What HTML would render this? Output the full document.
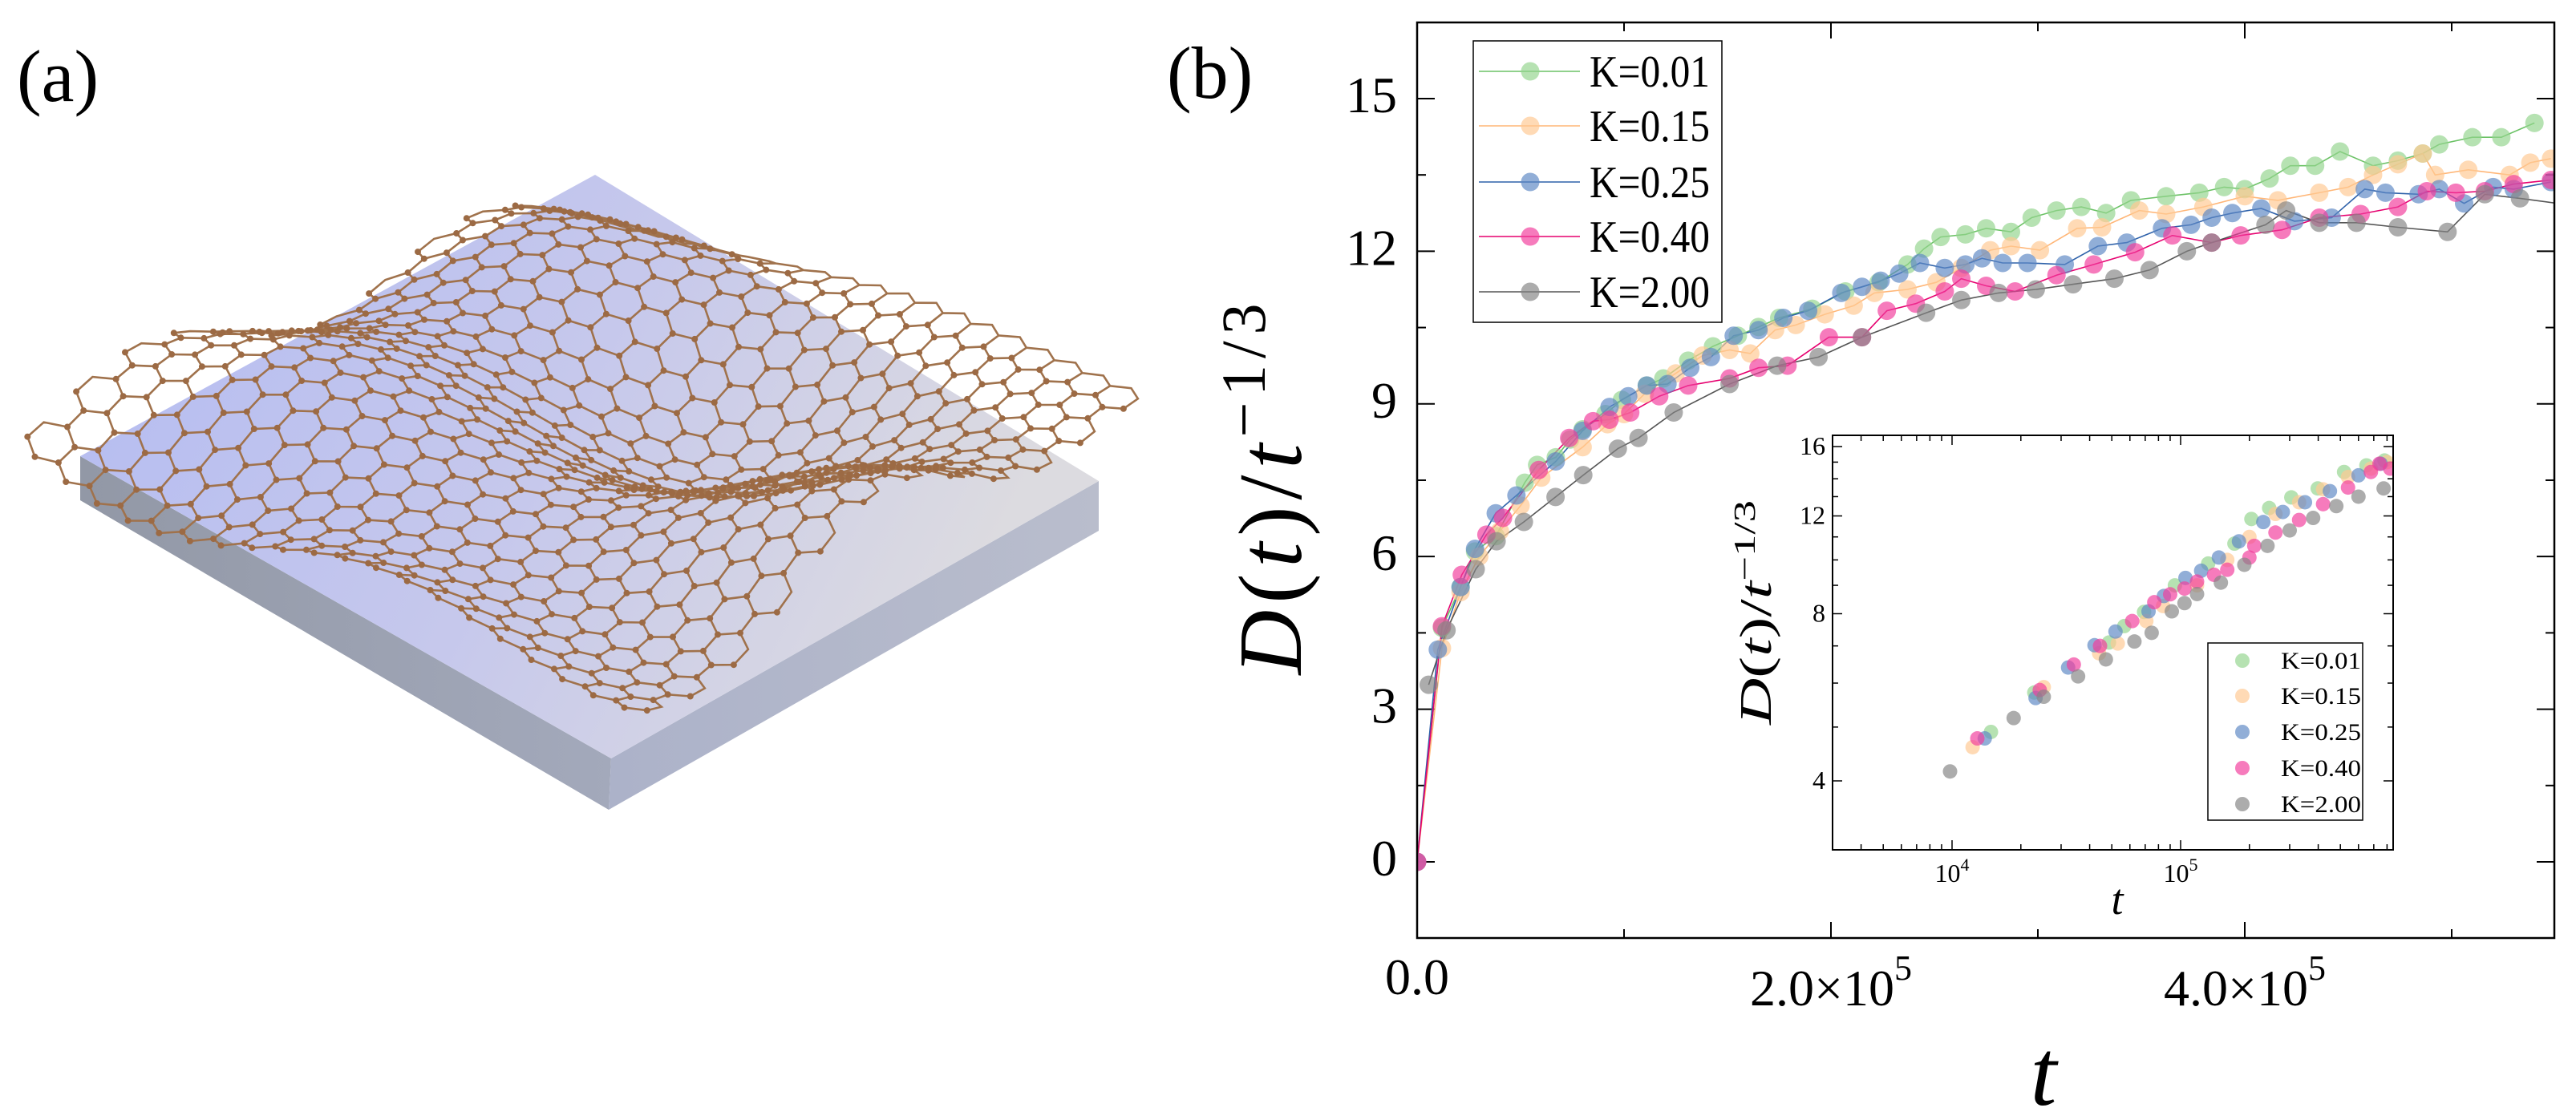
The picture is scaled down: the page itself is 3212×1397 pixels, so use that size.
<!DOCTYPE html>
<html><head><meta charset="utf-8"><title>Figure</title>
<style>html,body{margin:0;padding:0;background:#fff}svg{display:block}text{font-family:"Liberation Serif",serif}</style>
</head><body>
<svg id="fig" xmlns="http://www.w3.org/2000/svg" width="3212" height="1397" viewBox="0 0 3212 1397">
<defs>
<linearGradient id="topg" x1="0" y1="0" x2="1" y2="0.3">
<stop offset="0" stop-color="#b3bbf2"/><stop offset="0.55" stop-color="#c6c8ec"/><stop offset="1" stop-color="#dcdbe0"/></linearGradient>
<linearGradient id="leftg" x1="0" y1="0" x2="1" y2="0"><stop offset="0" stop-color="#9298a6"/><stop offset="1" stop-color="#a3a9bb"/></linearGradient>
<linearGradient id="rightg" x1="0" y1="0" x2="1" y2="0"><stop offset="0" stop-color="#acb2c9"/><stop offset="1" stop-color="#b9bdcc"/></linearGradient>
<clipPath id="mainclip"><rect x="1767" y="28" width="1418" height="1142"/></clipPath>
<clipPath id="insetclip"><rect x="2285" y="543" width="699" height="517"/></clipPath>
</defs>
<g id="panel-a">
<text x="21" y="126" font-size="92">(a)</text>
<polygon points="100,569 762,946 759,1010 100,624" fill="url(#leftg)"/>
<polygon points="762,946 1370,600 1370,662 759,1010" fill="url(#rightg)"/>
<polygon points="742,218 1370,600 762,946 100,569" fill="url(#topg)"/>
<g id="mesh"></g>
</g>
<g id="panel-b">
<text x="1455" y="122" font-size="92">(b)</text>
<text transform="translate(1622,610) rotate(-90)" text-anchor="middle" font-size="112" textLength="463" lengthAdjust="spacing"><tspan font-style="italic">D</tspan>(<tspan font-style="italic">t</tspan>)/<tspan font-style="italic">t</tspan><tspan dy="-45" font-size="78">−1/3</tspan></text>
<text x="2548" y="1378" text-anchor="middle" font-size="118" font-style="italic">t</text>
<g id="mainaxes"></g>
<g id="mainplot" clip-path="url(#mainclip)"></g>
<rect x="1767" y="28" width="1418" height="1142" fill="none" stroke="#000" stroke-width="2.5"/>
<g id="legend"></g>
<g id="inset">
<rect x="2285" y="543" width="699" height="517" fill="#fff" stroke="none"/>
<g id="insetaxes"></g>
<g id="insetplot" clip-path="url(#insetclip)"></g>
<rect x="2285" y="543" width="699" height="517" fill="none" stroke="#000" stroke-width="2"/>
<text transform="translate(2208,764) rotate(-90)" text-anchor="middle" font-size="56" textLength="280" lengthAdjust="spacingAndGlyphs"><tspan font-style="italic">D</tspan>(<tspan font-style="italic">t</tspan>)/<tspan font-style="italic">t</tspan><tspan dy="-20" font-size="38">−1/3</tspan></text>
<text x="2640" y="1140" text-anchor="middle" font-size="54" font-style="italic">t</text>
<g id="insetlegend"></g>
</g>
</g>
</svg>
<script>
// ---------- data: main chart (t in units of 1e5) ----------
const seriesNames = ["K=0.01","K=0.15","K=0.25","K=0.40","K=2.00"];
const seriesFill = ["#93d48e","#ffc992","#5d88c4","#f23d9c","#858585"];
const seriesLine = ["#6cc266","#ffb677","#2f62aa","#e6006f","#555555"];
const tGreen = [0,0.12,0.21,0.28,0.38,0.52,0.58,0.67,0.74,0.8,0.91,0.99,1.11,1.19,1.31,1.43,1.55,1.65,1.75,1.91,2.07,2.23,2.37,2.45,2.53,2.65,2.75,2.87,2.97,3.09,3.21,3.33,3.45,3.62,3.78,3.9,4.0,4.12,4.22,4.34,4.46,4.62,4.74,4.86,4.94,5.1,5.24,5.4];
const vGreen = [0,4.6,5.4,6.1,6.4,7.45,7.8,7.95,8.3,8.5,8.8,9.08,9.36,9.5,9.85,10.13,10.34,10.51,10.69,10.87,11.21,11.39,11.74,12.05,12.28,12.33,12.45,12.38,12.66,12.8,12.87,12.75,13.0,13.08,13.15,13.26,13.22,13.43,13.68,13.68,13.96,13.68,13.78,13.92,14.1,14.24,14.24,14.52];
const tOrange = [0,0.12,0.21,0.3,0.4,0.5,0.6,0.8,0.92,1.0,1.1,1.25,1.38,1.51,1.61,1.73,1.83,1.97,2.11,2.21,2.37,2.51,2.63,2.77,2.87,3.01,3.19,3.31,3.49,3.62,3.8,4.0,4.16,4.36,4.5,4.62,4.74,4.86,4.92,5.08,5.28,5.38,5.48];
const vOrange = [0,4.2,5.3,6.0,6.5,7.0,7.55,8.15,8.6,8.8,9.2,9.6,9.95,10.06,9.99,10.45,10.55,10.76,10.93,11.18,11.25,11.39,11.67,12.02,12.1,12.02,12.45,12.47,12.8,12.73,12.87,13.08,13.0,13.15,13.26,13.5,13.71,13.92,13.5,13.6,13.5,13.74,13.82];
const tBlue = [0,0.1,0.21,0.28,0.38,0.48,0.67,0.8,0.93,1.02,1.11,1.21,1.32,1.42,1.53,1.65,1.77,1.89,2.05,2.15,2.24,2.33,2.43,2.55,2.65,2.73,2.83,2.95,3.13,3.29,3.43,3.6,3.74,3.84,3.94,4.08,4.24,4.42,4.58,4.68,4.84,4.94,5.06,5.2,5.3,5.48];
const vBlue = [0,4.17,5.4,6.15,6.85,7.2,7.87,8.47,8.94,9.15,9.36,9.39,9.71,9.92,10.34,10.45,10.69,10.83,11.18,11.3,11.42,11.56,11.77,11.67,11.74,11.86,11.77,11.77,11.74,12.1,12.17,12.45,12.52,12.66,12.75,12.84,12.59,12.66,13.22,13.15,13.12,13.22,12.94,13.26,13.22,13.36];
const tPink = [0,0.12,0.216,0.335,0.415,0.588,0.735,0.85,0.93,1.03,1.17,1.31,1.51,1.65,1.79,1.99,2.15,2.27,2.41,2.55,2.63,2.75,2.89,3.09,3.27,3.47,3.65,3.84,3.98,4.18,4.36,4.56,4.74,4.88,5.02,5.16,5.3,5.48];
const vPink = [0,4.63,5.64,6.43,6.76,7.7,8.33,8.66,8.69,8.83,9.15,9.36,9.5,9.71,9.75,10.31,10.31,10.83,10.97,11.21,11.46,11.32,11.21,11.53,11.74,11.98,12.31,12.17,12.31,12.42,12.66,12.73,12.87,13.18,13.15,13.18,13.32,13.4];
const tGray = [0.056,0.142,0.283,0.384,0.516,0.669,0.803,0.97,1.07,1.24,1.51,1.74,1.94,2.15,2.46,2.63,2.81,2.99,3.17,3.37,3.54,3.72,3.84,4.1,4.2,4.36,4.54,4.74,4.98,5.16,5.33,5.55];
const vGray = [3.48,4.55,5.75,6.3,6.68,7.17,7.6,8.12,8.33,8.83,9.39,9.75,9.92,10.31,10.79,11.04,11.18,11.25,11.35,11.46,11.63,12.0,12.17,12.52,12.8,12.56,12.56,12.47,12.38,13.12,13.04,12.92];
const xTickValues = [0,2,4];
const xTickLabels = ["0.0","2.0×10","4.0×10"];
const yTickValues = [0,3,6,9,12,15];
const yTickLabels = ["0","3","6","9","12","15"];

// ---------- data: inset (log-log) ----------
const itGreen = [14800,22900,48600,56700,69200,94400,132000,172000,204000,244000,305000,398000,519000,650000,780000];
const iDGreen = [4.9,5.77,7.1,7.6,8.06,9.0,9.85,10.7,11.85,12.4,12.96,13.45,14.4,14.8,15.1];
const itOrange = [12300,25200,44000,53100,70800,83800,118000,160000,200000,260000,330000,420000,540000,680000,800000];
const iDOrange = [4.6,5.9,6.79,7.07,7.76,8.26,9.0,10.0,11.0,12.1,12.7,13.4,14.1,14.6,15.0];
const itBlue = [13900,23200,32200,42000,51900,72400,84500,105000,123000,147000,180000,230000,280000,350000,450000,600000,750000];
const iDBlue = [4.77,5.64,6.4,7.02,7.43,8.08,8.61,9.28,9.56,10.1,10.8,11.7,12.2,12.7,13.3,14.2,14.9];
const itPink = [12900,24200,34100,44400,61400,76700,90000,104000,118000,140000,160000,200000,210000,260000,330000,420000,540000,680000,741000,826000];
const iDPink = [4.77,5.83,6.48,7.0,7.76,8.39,8.67,8.88,9.14,9.4,9.6,10.1,10.6,11.2,11.8,12.6,13.5,14.4,14.9,14.6];
const itGray = [9800,18600,25200,35600,47100,62800,74700,91500,104000,118000,150000,190000,240000,300000,380000,480000,600000,773000];
const iDGray = [4.16,5.19,5.67,6.17,6.62,7.13,7.39,8.08,8.36,8.68,9.1,9.8,10.6,11.3,11.9,12.5,13.0,13.45];
const iyTickValues = [4,8,12,16];
const iyTickLabels = ["4","8","12","16"];
const ixTickExps = [4,5];

const NS = "http://www.w3.org/2000/svg";
function mk(tag, attrs, parent){const e=document.createElementNS(NS,tag);for(const k in attrs)e.setAttribute(k,attrs[k]);parent.appendChild(e);return e;}

// main axis functions
const X = t => 1767 + t*258;
const Y = v => 1075 - v*63.47;
const axes = document.getElementById("mainaxes");
for (let i=0;i<=5;i++){ const x=X(i); const L=(i%2===0)?20:11;
  const a=mk("line",{x1:x,y1:1170,x2:x,y2:1170-L,stroke:"#000","stroke-width":2},axes);
  
  
  const b=mk("line",{x1:x,y1:28,x2:x,y2:28+L,stroke:"#000","stroke-width":2},axes);
  
  
}
for (let k=0;k<=10;k++){ const v=k*1.5; const y=Y(v); const L=(k%2===0)?22:11;
  const a=mk("line",{x1:1767,y1:y,x2:1767+L,y2:y,stroke:"#000","stroke-width":2},axes);
  
  
  const b=mk("line",{x1:3185,y1:y,x2:3185-L,y2:y,stroke:"#000","stroke-width":2},axes);
  
  
}
xTickValues.forEach((t,i)=>{
  const tx=mk("text",{x:X(t),y:(t===0?1240:1254),"text-anchor":"middle","font-size":64},axes);
  
  
  tx.textContent=xTickLabels[i];
  if(t!==0){const s=document.createElementNS(NS,"tspan");s.setAttribute("dy","-32");s.setAttribute("font-size","44");s.textContent="5";tx.appendChild(s);}
});
yTickValues.forEach((v,i)=>{
  const tx=mk("text",{x:1742,y:Y(v)+17,"text-anchor":"end","font-size":64},axes);
  
  
  tx.textContent=yTickLabels[i];
});

const mainT=[tGreen,tOrange,tBlue,tPink,tGray], mainV=[vGreen,vOrange,vBlue,vPink,vGray];
const plot=document.getElementById("mainplot");
for(let s=0;s<5;s++){
  const pts=mainT[s].map((t,i)=>X(t).toFixed(1)+","+Y(mainV[s][i]).toFixed(1)).join(" ");
  const pl=mk("polyline",{points:pts,fill:"none",stroke:seriesLine[s],"stroke-width":1.6},plot);
  
  
}
for(let s=0;s<5;s++){
  mainT[s].forEach((t,i)=>{
    const c=mk("circle",{cx:X(t),cy:Y(mainV[s][i]),r:11.5,fill:seriesFill[s],"fill-opacity":0.68},plot);
    
    
  });
}
// legend
const leg=document.getElementById("legend");
const lb=mk("rect",{x:1837,y:51,width:310,height:351,fill:"#fff",stroke:"#000","stroke-width":1.5},leg);


const legY=[89,157,227,295,364];
seriesNames.forEach((n,s)=>{
  const g=mk("g",{},leg);
  
  
  mk("line",{x1:1844,y1:legY[s],x2:1970,y2:legY[s],stroke:seriesLine[s],"stroke-width":1.4},g);
  mk("circle",{cx:1908,cy:legY[s],r:11.5,fill:seriesFill[s],"fill-opacity":0.68},g);
  const t=mk("text",{x:1982,y:legY[s]+19,"font-size":56,textLength:150,lengthAdjust:"spacingAndGlyphs"},g);
  t.textContent=n;
});

// inset axis functions
const IX = t => 2434 + (Math.log10(t)-4)*285;
const IY = d => 974 - (Math.log2(d)-2)*208.5;
const iax=document.getElementById("insetaxes");
for(let e=3;e<=5;e++){ for(let m=1;m<=9;m++){
  const t=m*Math.pow(10,e); const x=IX(t); if(x<2286||x>2983) continue;
  const L=(m===1)?12:7;
  const a=mk("line",{x1:x,y1:1060,x2:x,y2:1060-L,stroke:"#000","stroke-width":1.5},iax);
  
  
  const b=mk("line",{x1:x,y1:543,x2:x,y2:543+L,stroke:"#000","stroke-width":1.5},iax);
  
  
}}
for(let d=3;d<=16;d++){ const y=IY(d); if(y>1059) continue; const L=(d%4===0)?12:7;
  const a=mk("line",{x1:2285,y1:y,x2:2285+L,y2:y,stroke:"#000","stroke-width":1.5},iax);
  
  
  const b=mk("line",{x1:2984,y1:y,x2:2984-L,y2:y,stroke:"#000","stroke-width":1.5},iax);
  
  
}
iyTickValues.forEach((d,i)=>{
  const t=mk("text",{x:2276,y:IY(d)+10,"text-anchor":"end","font-size":32},iax);
  
  
  t.textContent=iyTickLabels[i];
});
ixTickExps.forEach(e=>{
  const t=mk("text",{x:IX(Math.pow(10,e)),y:1100,"text-anchor":"middle","font-size":32},iax);
  
  
  t.textContent="10";
  const s=document.createElementNS(NS,"tspan");s.setAttribute("dy","-14");s.setAttribute("font-size","22");s.textContent=String(e);t.appendChild(s);
});
const insT=[itGreen,itOrange,itBlue,itPink,itGray], insD=[iDGreen,iDOrange,iDBlue,iDPink,iDGray];
const iplot=document.getElementById("insetplot");
for(let s=0;s<5;s++){
  insT[s].forEach((t,i)=>{
    const c=mk("circle",{cx:IX(t),cy:IY(insD[s][i]),r:9,fill:seriesFill[s],"fill-opacity":0.68},iplot);
    
    
  });
}
const il=document.getElementById("insetlegend");
const ilb=mk("rect",{x:2753,y:802,width:193,height:221,fill:"#fff",stroke:"#000","stroke-width":1.5},il);


const ilegY=[824,868,913,958,1003];
seriesNames.forEach((n,s)=>{
  const g=mk("g",{},il);
  
  
  mk("circle",{cx:2796,cy:ilegY[s],r:9,fill:seriesFill[s],"fill-opacity":0.68},g);
  const t=mk("text",{x:2844,y:ilegY[s]+10,"font-size":30,textLength:100,lengthAdjust:"spacingAndGlyphs"},g);
  t.textContent=n;
});

// ---------- decorative graphene sheet ----------
(function(){
  const T=[731,270],R=[1401,520],Lc=[57,525],B=[800,850];
  function map(u,v){
    const x=(1-u)*(1-v)*T[0]+u*(1-v)*R[0]+(1-u)*v*Lc[0]+u*v*B[0];
    let y=(1-u)*(1-v)*T[1]+u*(1-v)*R[1]+(1-u)*v*Lc[1]+u*v*B[1];
    y -= 55*Math.sin(Math.PI*u*2.4+0.4)*Math.sin(Math.PI*v*1.2) + 35*Math.sin(Math.PI*v*3.2+u*2.5);
    return [x,y];
  }
  const s=0.03, w=Math.sqrt(3)*s;
  let bonds="", atoms="";
  for(let row=0; row*1.5*s<=1.02; row++){
    for(let col=0; col*w<=1.02; col++){
      const cu=col*w+(row%2?w/2:0), cv=row*1.5*s;
      if(cu>1.0||cv>1.0) continue;
      let d="";
      for(let k=0;k<6;k++){
        const ang=Math.PI/6+k*Math.PI/3;
        const p=map(cu+s*Math.cos(ang), cv+s*Math.sin(ang));
        d+=(k?"L":"M")+p[0].toFixed(1)+" "+p[1].toFixed(1);
        if(k<3) atoms+="M"+(p[0]-4).toFixed(1)+" "+p[1].toFixed(1)+"a4 4 0 1 0 8 0a4 4 0 1 0 -8 0";
      }
      bonds+=d+"Z";
    }
  }
  const g=document.getElementById("mesh");
  const b=mk("path",{d:bonds,fill:"none",stroke:"#a0724c","stroke-width":2.6},g);
  
  
  const a=mk("path",{d:atoms,fill:"#9c6a44"},g);
  
  
})();
</script>
</body></html>
